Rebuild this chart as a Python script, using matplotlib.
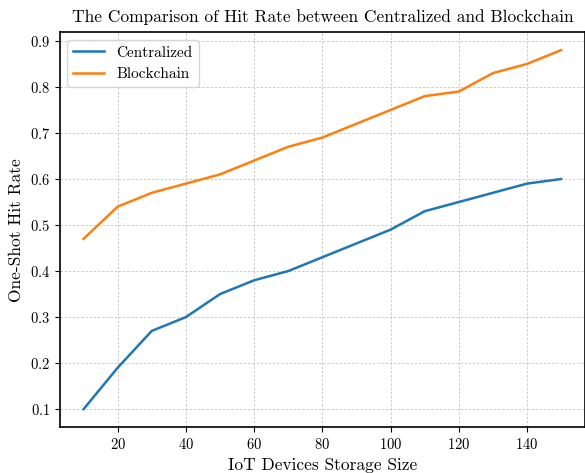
import matplotlib
matplotlib.use("Agg")
import matplotlib.pyplot as plt

storage_size = [10, 20, 30, 40, 50, 60, 70, 80, 90, 100, 110, 120, 130, 140, 150]
centralized = [0.10, 0.19, 0.27, 0.30, 0.35, 0.38, 0.40, 0.43, 0.46, 0.49, 0.53, 0.55, 0.57, 0.59, 0.60]
blockchain = [0.47, 0.54, 0.57, 0.59, 0.61, 0.64, 0.67, 0.69, 0.72, 0.75, 0.78, 0.79, 0.83, 0.85, 0.88]

plt.rcParams["font.family"] = "cmr10"
plt.rcParams["mathtext.fontset"] = "cm"
plt.rcParams["axes.formatter.use_mathtext"] = True

fig = plt.figure(figsize=(5.85, 4.73), dpi=100)
ax = fig.add_axes([0.102, 0.097, 0.898, 0.835])

ax.plot(storage_size, centralized, color="#1f77b4", linewidth=1.8, label="Centralized")
ax.plot(storage_size, blockchain, color="#ff7f0e", linewidth=1.8, label="Blockchain")

ax.set_title("The Comparison of Hit Rate between Centralized and Blockchain", fontsize=12.5, pad=7)
ax.set_xlabel("IoT Devices Storage Size", fontsize=12.5)
ax.set_ylabel("One-Shot Hit Rate", fontsize=12.5)
ax.tick_params(labelsize=10.5)
ax.grid(True, linestyle=(0, (3, 2)), color="#c4c4c4", linewidth=0.6)
for s in ax.spines.values():
    s.set_linewidth(1.2)
ax.legend(loc="upper left", fontsize=11)

fig.savefig("out.png", dpi=100)
